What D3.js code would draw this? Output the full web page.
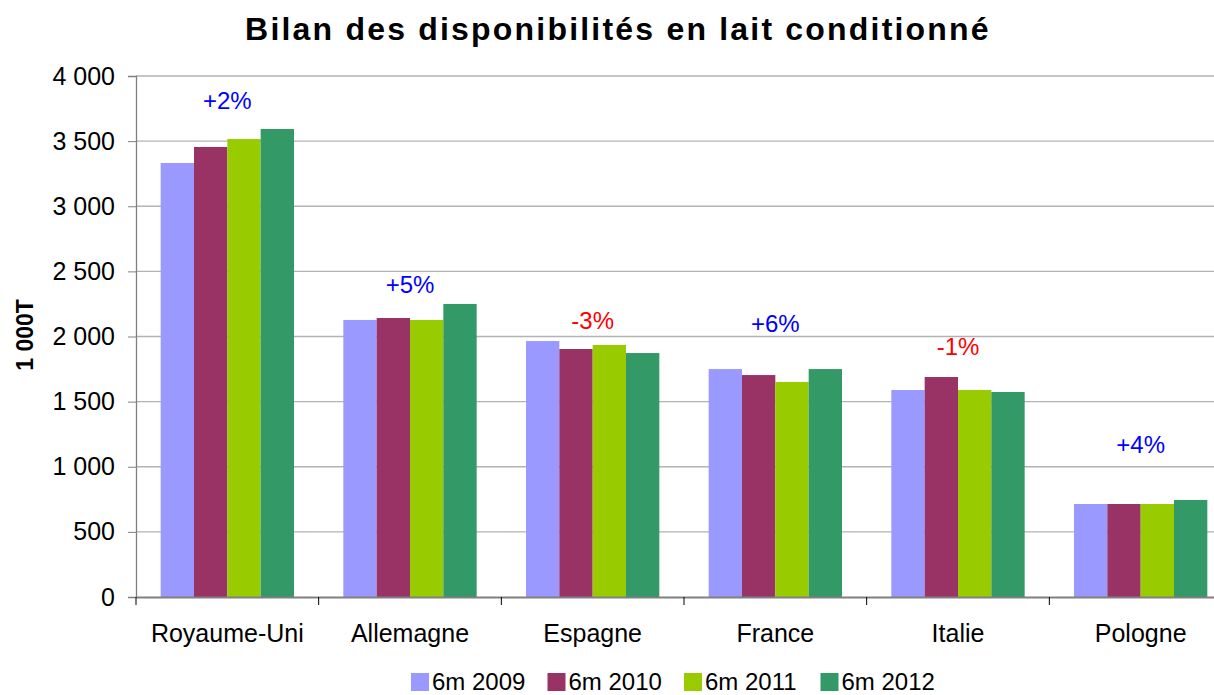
<!DOCTYPE html>
<html>
<head>
<meta charset="utf-8">
<script src="https://cdnjs.cloudflare.com/ajax/libs/d3/7.8.5/d3.min.js"></script>
<style>
  body { margin: 0; background: #fff; }
  svg { font-family: "Liberation Sans", Arial, sans-serif; display: block; }
</style>
</head>
<body>
<svg id="chart" width="1214" height="695"></svg>
<script>
var categories = ["Royaume-Uni", "Allemagne", "Espagne", "France", "Italie", "Pologne"];
var seriesNames = ["6m 2009", "6m 2010", "6m 2011", "6m 2012"];
var v2009 = [3332, 2127, 1965, 1750, 1589, 714];
var v2010 = [3455, 2142, 1904, 1704, 1689, 714];
var v2011 = [3516, 2127, 1935, 1651, 1589, 714];
var v2012 = [3593, 2250, 1873, 1750, 1574, 745];
var changeLabels = ["+2%", "+5%", "-3%", "+6%", "-1%", "+4%"];
var changeLabelLevel = [3747, 2334, 2058, 2035, 1858, 1106];
var yTicks = [0, 500, 1000, 1500, 2000, 2500, 3000, 3500, 4000];
var colors = ["#9999FF", "#993366", "#99CC00", "#339966"];

var series = [v2009, v2010, v2011, v2012];

var svg = d3.select("#chart"),
    margin = {top: 76, right: -18, bottom: 98, left: 136},
    width = +svg.attr("width") - margin.left - margin.right,
    height = +svg.attr("height") - margin.top - margin.bottom;

var x = d3.scaleBand().domain(categories).range([0, width]).paddingInner(0).paddingOuter(0);
var x1 = d3.scaleBand().domain(d3.range(series.length)).range([0, x.bandwidth()]).paddingOuter(0.74).paddingInner(0);
var y = d3.scaleLinear().domain([0, 4000]).range([height, 0]);

var g = svg.append("g")
    .attr("transform", "translate(" + margin.left + "," + margin.top + ")");

// grid
g.selectAll(".grid")
    .data(yTicks.slice(1))
  .enter().append("line")
    .attr("x1", 0).attr("x2", width)
    .attr("y1", function(d) { return y(d); })
    .attr("y2", function(d) { return y(d); })
    .attr("stroke", "#b3b3b3")
    .attr("stroke-width", 1.3);

// bars
categories.forEach(function(c, i) {
    series.forEach(function(s, j) {
        g.append("rect")
            .attr("x", x(c) + x1(j))
            .attr("width", x1.bandwidth())
            .attr("y", y(s[i]))
            .attr("height", height - y(s[i]))
            .attr("fill", colors[j]);
    });
});

// y axis
var yAxis = g.append("g")
    .call(d3.axisLeft(y).tickValues(yTicks).tickSize(8).tickPadding(13)
        .tickFormat(function(d) { return d3.format(",")(d).replace(",", " "); }));
yAxis.select(".domain").attr("stroke", "#808080").attr("stroke-width", 1.3);
yAxis.selectAll(".tick line").attr("stroke", "#808080");
yAxis.selectAll("text").style("font-size", "25px").attr("fill", "#000");

// x axis
var xAxis = g.append("g")
    .attr("transform", "translate(0," + height + ")")
    .call(d3.axisBottom(x).tickSize(0).tickPadding(27));
xAxis.select(".domain").attr("stroke", "#808080").attr("stroke-width", 2);
xAxis.selectAll("text").style("font-size", "25px").attr("fill", "#000");
g.selectAll(".cattick")
    .data(categories)
  .enter().append("line")
    .attr("x1", function(d) { return x(d); })
    .attr("x2", function(d) { return x(d); })
    .attr("y1", height).attr("y2", height + 8)
    .attr("stroke", "#000");

// change labels
g.selectAll(".chg")
    .data(categories)
  .enter().append("text")
    .attr("x", function(d) { return x(d) + x.bandwidth() / 2; })
    .attr("y", function(d, i) { return y(changeLabelLevel[i]); })
    .attr("text-anchor", "middle")
    .style("font-size", "24px")
    .attr("fill", function(d, i) { return changeLabels[i].charAt(0) == "-" ? "#FF0000" : "#0000FF"; })
    .text(function(d, i) { return changeLabels[i]; });

// title
svg.append("text")
    .attr("x", 618).attr("y", 40)
    .attr("text-anchor", "middle")
    .style("font-size", "32px").style("font-weight", "bold")
    .style("letter-spacing", "2.2px")
    .text("Bilan des disponibilités en lait conditionné");

// y title
svg.append("text")
    .attr("transform", "translate(33,335) rotate(-90)")
    .attr("text-anchor", "middle")
    .style("font-size", "23px").style("font-weight", "bold")
    .text("1 000T");

// legend
var legend = svg.append("g").attr("transform", "translate(411,673)");
var item = legend.selectAll(".item")
    .data(seriesNames)
  .enter().append("g")
    .attr("transform", function(d, i) { return "translate(" + (i * 136.5) + ",0)"; });
item.append("rect")
    .attr("width", 18).attr("height", 18)
    .attr("fill", function(d, i) { return colors[i]; });
item.append("text")
    .attr("x", 21).attr("y", 17)
    .style("font-size", "24px")
    .text(function(d) { return d; });
</script>
</body>
</html>
